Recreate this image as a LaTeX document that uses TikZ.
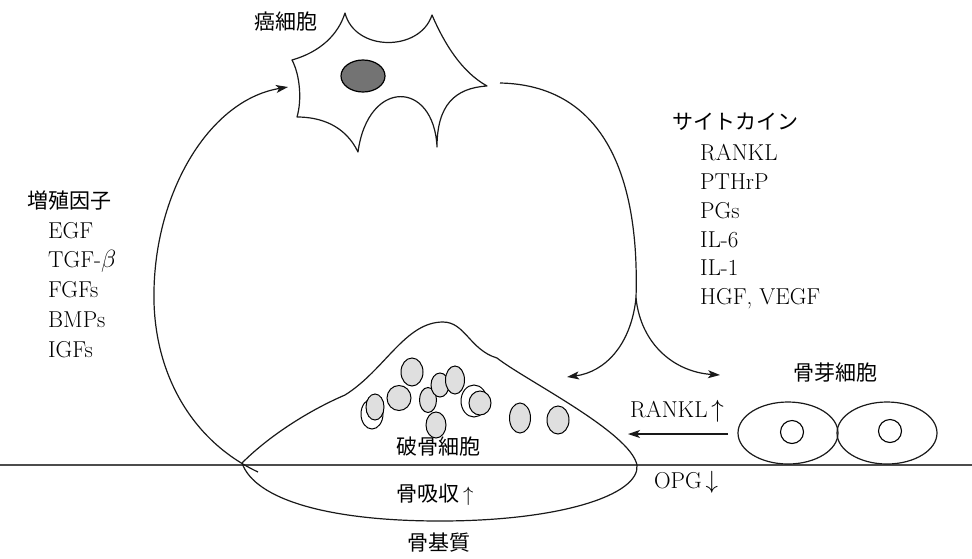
\documentclass[tikz,border=0pt]{standalone}
\usepackage{fontspec}
\newfontfamily\jp{Noto Sans CJK JP}
\usetikzlibrary{arrows.meta}
\begin{document}
\begin{tikzpicture}[x=1pt,y=-1pt,
  outline/.style={line width=1.2pt, black!90, line join=round},
  conn/.style={line width=1.2pt, black!90, -{Stealth[length=12pt,width=8pt,inset=3pt]}},
  jplabel/.style={font=\jp\fontsize{21}{25}\selectfont, inner sep=0pt},
  latlabel/.style={font=\fontsize{23}{28}\selectfont, inner sep=0pt},
  nuc/.style={draw, line width=1pt, fill=gray!25},
  ring/.style={draw, line width=1pt, fill=white},
]
\useasboundingbox (0,0) rectangle (972,558);

% bone surface
\draw[line width=1.4pt, black!70] (0,465) -- (972,465);

% ---- cancer cell ----
\coordinate (cA) at (292,60);
\coordinate (cB) at (345,13);
\coordinate (cC) at (432,15);
\coordinate (cD) at (487,86);
\coordinate (cE) at (437,147);
\coordinate (cF) at (358,152);
\coordinate (cG) at (297,117);
\draw[outline, fill=white]
  (cA) .. controls (320,52) and (338,35) .. (cB)
       .. controls (355,52) and (420,52) .. (cC)
       .. controls (445,45) and (462,72) .. (cD)
       .. controls (455,88) and (437,105) .. (cE)
       .. controls (434,80) and (368,78) .. (cF)
       .. controls (345,125) and (320,117) .. (cG)
       .. controls (302,100) and (300,75) .. (cA) -- cycle;
\draw[line width=1.2pt, fill=black!55] (363,76) ellipse [x radius=22, y radius=16];
\node[jplabel] (cancer) at (286,22) {癌細胞};

% ---- osteoclast ----
\coordinate (ocL) at (242,463);
\coordinate (ocTop) at (443,322);
\coordinate (ocR) at (637,465);
\draw[outline]
  (ocL) .. controls (270,435) and (310,410) .. (345,395)
        .. controls (385,370) and (405,322) .. (ocTop)
        .. controls (465,322) and (470,350) .. (497,358)
        .. controls (525,380) and (630,432) .. (ocR)
        .. controls (640,495) and (560,521) .. (440,521)
        .. controls (330,521) and (255,500) .. (ocL);

% nuclei of the osteoclast
\draw[ring] (372,414) ellipse [x radius=11, y radius=15];
\draw[nuc]  (375,407) ellipse [x radius=9, y radius=13];
\draw[nuc]  (412,372) ellipse [x radius=11, y radius=14];
\draw[nuc]  (399,398) ellipse [x radius=12, y radius=12.5];
\draw[nuc]  (428,400) ellipse [x radius=8.5, y radius=12.5];
\draw[nuc]  (440,385) ellipse [x radius=9, y radius=12];
\draw[nuc]  (455,380) ellipse [x radius=9.5, y radius=14];
\draw[ring] (474,401) ellipse [x radius=13, y radius=16];
\draw[nuc]  (480,403) ellipse [x radius=11, y radius=12];
\draw[nuc]  (436,425) ellipse [x radius=10, y radius=13];
\draw[nuc]  (520,418) ellipse [x radius=10.5, y radius=15];
\draw[nuc]  (558,420) ellipse [x radius=11, y radius=14];

\node[jplabel] (oclabel) at (438,447) {破骨細胞};
\node[jplabel] (resorb) at (435,495) {骨吸収\,$\uparrow$};
\node[jplabel] (matrix) at (439,543) {骨基質};

% ---- osteoblasts ----
\draw[outline] (788,433) ellipse [x radius=50, y radius=31];
\draw[outline] (887,433) ellipse [x radius=50, y radius=31];
\draw[line width=1.1pt] (792,432) circle [radius=11.5];
\draw[line width=1.1pt] (890,431) circle [radius=11.5];
\node[jplabel] (oblabel) at (835,373) {骨芽細胞};
\coordinate (obLeft) at (728,434);
\coordinate (ocSide) at (628,434);
\node[latlabel] (rankl) at (677,411) {RANKL\,$\uparrow$};
\node[latlabel] (opg) at (686,482) {OPG\,$\downarrow$};
\draw[conn] (obLeft) -- (ocSide);

% ---- growth factors: bone -> cancer cell ----
\coordinate (gfTail) at (258,472);
\coordinate (gfHead) at (288,87);
\draw[conn] (gfTail) .. controls (190,440) and (152,370) .. (154,290)
                     .. controls (156,190) and (210,100) .. (gfHead);

\node[jplabel, anchor=base west] (gf) at (27,208) {増殖因子};
\node[latlabel, anchor=base west] (gf1) at (48,238) {EGF};
\node[latlabel, anchor=base west] (gf2) at (48,267) {TGF-$\beta$};
\node[latlabel, anchor=base west] (gf3) at (48,297) {FGFs};
\node[latlabel, anchor=base west] (gf4) at (48,327) {BMPs};
\node[latlabel, anchor=base west] (gf5) at (48,357) {IGFs};

% ---- cytokines: cancer cell -> osteoclast / osteoblast ----
\coordinate (ckTail) at (500,83);
\coordinate (ckFork) at (636,298);
\coordinate (ckOc) at (567,377);
\coordinate (ckOb) at (720,375);
\draw[outline] (ckTail) .. controls (600,85) and (640,170) .. (ckFork);
\draw[conn] (ckFork) .. controls (631,345) and (605,372) .. (ckOc);
\draw[conn] (ckFork) .. controls (641,345) and (675,372) .. (ckOb);

\node[jplabel, anchor=base west] (ck) at (672,129) {サイトカイン};
\node[latlabel, anchor=base west] (ck1) at (700,160) {RANKL};
\node[latlabel, anchor=base west] (ck2) at (700,189) {PTHrP};
\node[latlabel, anchor=base west] (ck3) at (700,218) {PGs};
\node[latlabel, anchor=base west] (ck4) at (700,247) {IL-6};
\node[latlabel, anchor=base west] (ck5) at (700,275) {IL-1};
\node[latlabel, anchor=base west] (ck6) at (700,304) {HGF, VEGF};
\end{tikzpicture}
\end{document}
